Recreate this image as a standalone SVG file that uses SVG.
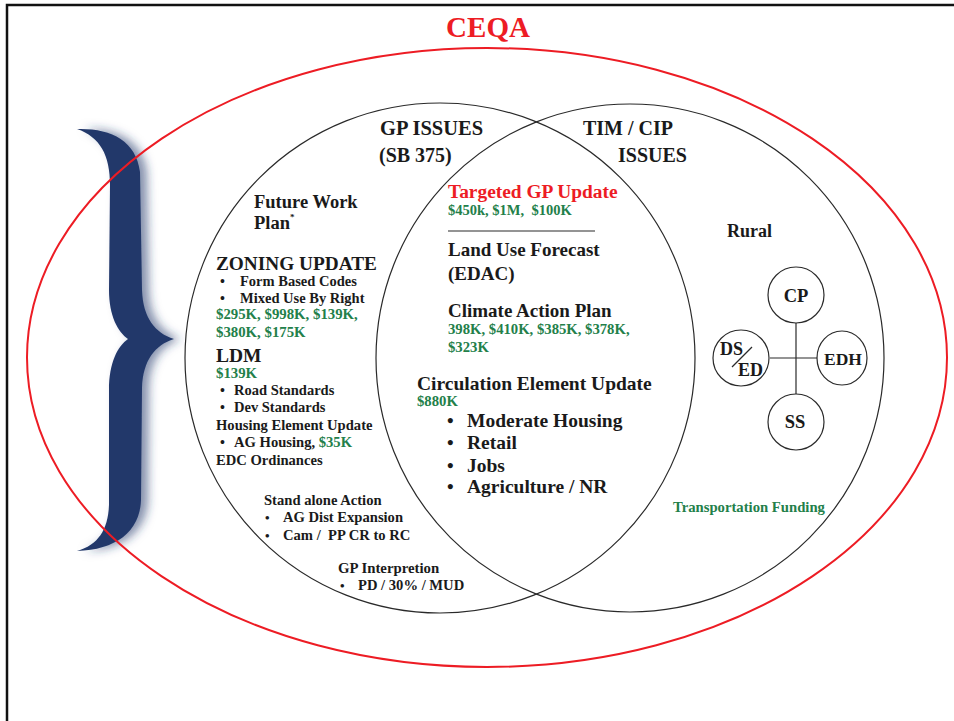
<svg xmlns="http://www.w3.org/2000/svg" width="954" height="721" viewBox="0 0 954 721">
<style>
.t{font-family:"Liberation Serif","Times New Roman",serif;font-weight:bold;fill:#1a1a1a}
.g{fill:#23804a}
.r{fill:#ed1c24}
.c{fill:none;stroke:#2a2a2a;stroke-width:1.2}
.n{fill:#fff;stroke:#2a2a2a;stroke-width:1.2}
.ln{stroke:#2a2a2a;stroke-width:1.2;fill:none}
.mid{text-anchor:middle}
</style>
<defs>
<filter id="sh" x="-50%" y="-20%" width="200%" height="140%">
<feGaussianBlur in="SourceAlpha" stdDeviation="5" result="b"/>
<feOffset in="b" dx="7" dy="0" result="o"/>
<feFlood flood-color="#22386b" flood-opacity="0.55"/>
<feComposite in2="o" operator="in" result="s"/>
<feMerge><feMergeNode in="s"/><feMergeNode in="SourceGraphic"/></feMerge>
</filter>
</defs>
<rect width="954" height="721" fill="#fff"/>
<g id="frame"><rect x="7" y="5" width="980" height="760" fill="none" stroke="#111" stroke-width="2.5"/></g>

<g id="brace">
<path filter="url(#sh)" fill="#22386b" d="M77,129 C110,128 136,140 140,172 L142,290 C143,318 155,333 174,339 C155,345 143,360 142,388 L141,500 C140,532 115,550 77,551 C98,545 108,530 109,505 L109,390 C109,362 118,346 128,339 C118,332 109,316 109,290 L110,185 C110,155 100,137 77,129 Z"/>
</g>

<g id="ceqa">
<ellipse cx="487" cy="357.5" rx="460" ry="309.5" fill="none" stroke="#ed1c24" stroke-width="2"/>
<text class="t r mid" x="488" y="37" font-size="29">CEQA</text>
</g>

<g id="gp-issues">
<circle class="c" cx="440" cy="358" r="255"/>
<text class="t" x="380" y="135" font-size="20.5">GP ISSUES</text>
<text class="t" x="379" y="162" font-size="20">(SB 375)</text>
<text class="t" x="254" y="208" font-size="18.5">Future Work</text>
<text class="t" x="254" y="229" font-size="18.5">Plan<tspan font-size="9" dy="-9">*</tspan></text>
<text class="t" x="216" y="270" font-size="19.3">ZONING UPDATE</text>
<text class="t" x="220" y="286" font-size="14">•</text>
<text class="t" x="240" y="286" font-size="14.5">Form Based Codes</text>
<text class="t" x="220" y="303" font-size="14">•</text>
<text class="t" x="240" y="303" font-size="14.5">Mixed Use By Right</text>
<text class="t g" x="216" y="319" font-size="14.8">$295K, $998K, $139K,</text>
<text class="t g" x="216" y="337" font-size="14.8">$380K, $175K</text>
<text class="t" x="216" y="362" font-size="19.5">LDM</text>
<text class="t g" x="216" y="378" font-size="14.8">$139K</text>
<text class="t" x="220" y="395" font-size="14">•</text>
<text class="t" x="234" y="395" font-size="14.5">Road Standards</text>
<text class="t" x="220" y="412" font-size="14">•</text>
<text class="t" x="234" y="412" font-size="14.5">Dev Standards</text>
<text class="t" x="216" y="430" font-size="14.6">Housing Element Update</text>
<text class="t" x="220" y="447" font-size="14">•</text>
<text class="t" x="234" y="447" font-size="14.6">AG Housing, <tspan class="g">$35K</tspan></text>
<text class="t" x="216" y="465" font-size="14.6">EDC Ordinances</text>
<text class="t" x="264" y="505" font-size="14.6">Stand alone Action</text>
<text class="t" x="265" y="522" font-size="13">•</text>
<text class="t" x="283" y="522" font-size="14.6">AG Dist Expansion</text>
<text class="t" x="265" y="540" font-size="13">•</text>
<text class="t" x="283" y="540" font-size="14.6" xml:space="preserve">Cam /  PP CR to RC</text>
<text class="t" x="338" y="573" font-size="14.8">GP Interpretion</text>
<text class="t" x="340" y="590" font-size="13">•</text>
<text class="t" x="358" y="590" font-size="14.6">PD / 30% / MUD</text>
</g>

<g id="tim-cip-issues">
<circle class="c" cx="630" cy="358" r="254"/>
<text class="t" x="583" y="135" font-size="20">TIM / CIP</text>
<text class="t" x="618" y="162" font-size="20">ISSUES</text>
<text class="t" x="727" y="237" font-size="18">Rural</text>
<text class="t g" x="673" y="512" font-size="14.7">Transportation Funding</text>
</g>

<g id="overlap">
<text class="t r" x="448" y="198" font-size="19.4">Targeted GP Update</text>
<text class="t g" x="448" y="215" font-size="14.5" xml:space="preserve">$450k, $1M,  $100K</text>
<line class="ln" x1="448" y1="231" x2="595" y2="231"/>
<text class="t" x="448" y="256" font-size="19">Land Use Forecast</text>
<text class="t" x="448" y="280" font-size="19">(EDAC)</text>
<text class="t" x="448" y="317" font-size="19">Climate Action Plan</text>
<text class="t g" x="448" y="334" font-size="14.7">398K, $410K, $385K, $378K,</text>
<text class="t g" x="448" y="352" font-size="14.7">$323K</text>
<text class="t" x="417" y="390" font-size="19.5">Circulation Element Update</text>
<text class="t g" x="417" y="406" font-size="14.7">$880K</text>
<text class="t" x="447" y="427" font-size="19">•</text>
<text class="t" x="467" y="427" font-size="19.5">Moderate Housing</text>
<text class="t" x="447" y="449" font-size="19">•</text>
<text class="t" x="467" y="449" font-size="19.5">Retail</text>
<text class="t" x="447" y="472" font-size="19">•</text>
<text class="t" x="467" y="472" font-size="19.5">Jobs</text>
<text class="t" x="447" y="493" font-size="19">•</text>
<text class="t" x="467" y="493" font-size="19.5">Agriculture / NR</text>
</g>

<g id="connectors">
<line class="ln" x1="796" y1="323" x2="796" y2="395"/>
<line class="ln" x1="770" y1="358" x2="818" y2="358"/>
</g>

<g id="node-cp">
<circle class="n" cx="796" cy="295" r="28"/>
<text class="t mid" x="796" y="302" font-size="18.5">CP</text>
</g>
<g id="node-edh">
<ellipse class="n" cx="842" cy="358" rx="25" ry="27"/>
<text class="t mid" x="843" y="365" font-size="17.5">EDH</text>
</g>
<g id="node-ss">
<circle class="n" cx="796" cy="422" r="28"/>
<text class="t mid" x="795" y="428" font-size="18.5">SS</text>
</g>
<g id="node-dsed">
<circle class="n" cx="741" cy="358" r="28"/>
<text class="t" x="720" y="355" font-size="18">DS</text>
<text class="t" x="738" y="376" font-size="18">ED</text>
<line class="ln" x1="732" y1="367" x2="752" y2="347" stroke-width="1.6"/>
</g>
</svg>
